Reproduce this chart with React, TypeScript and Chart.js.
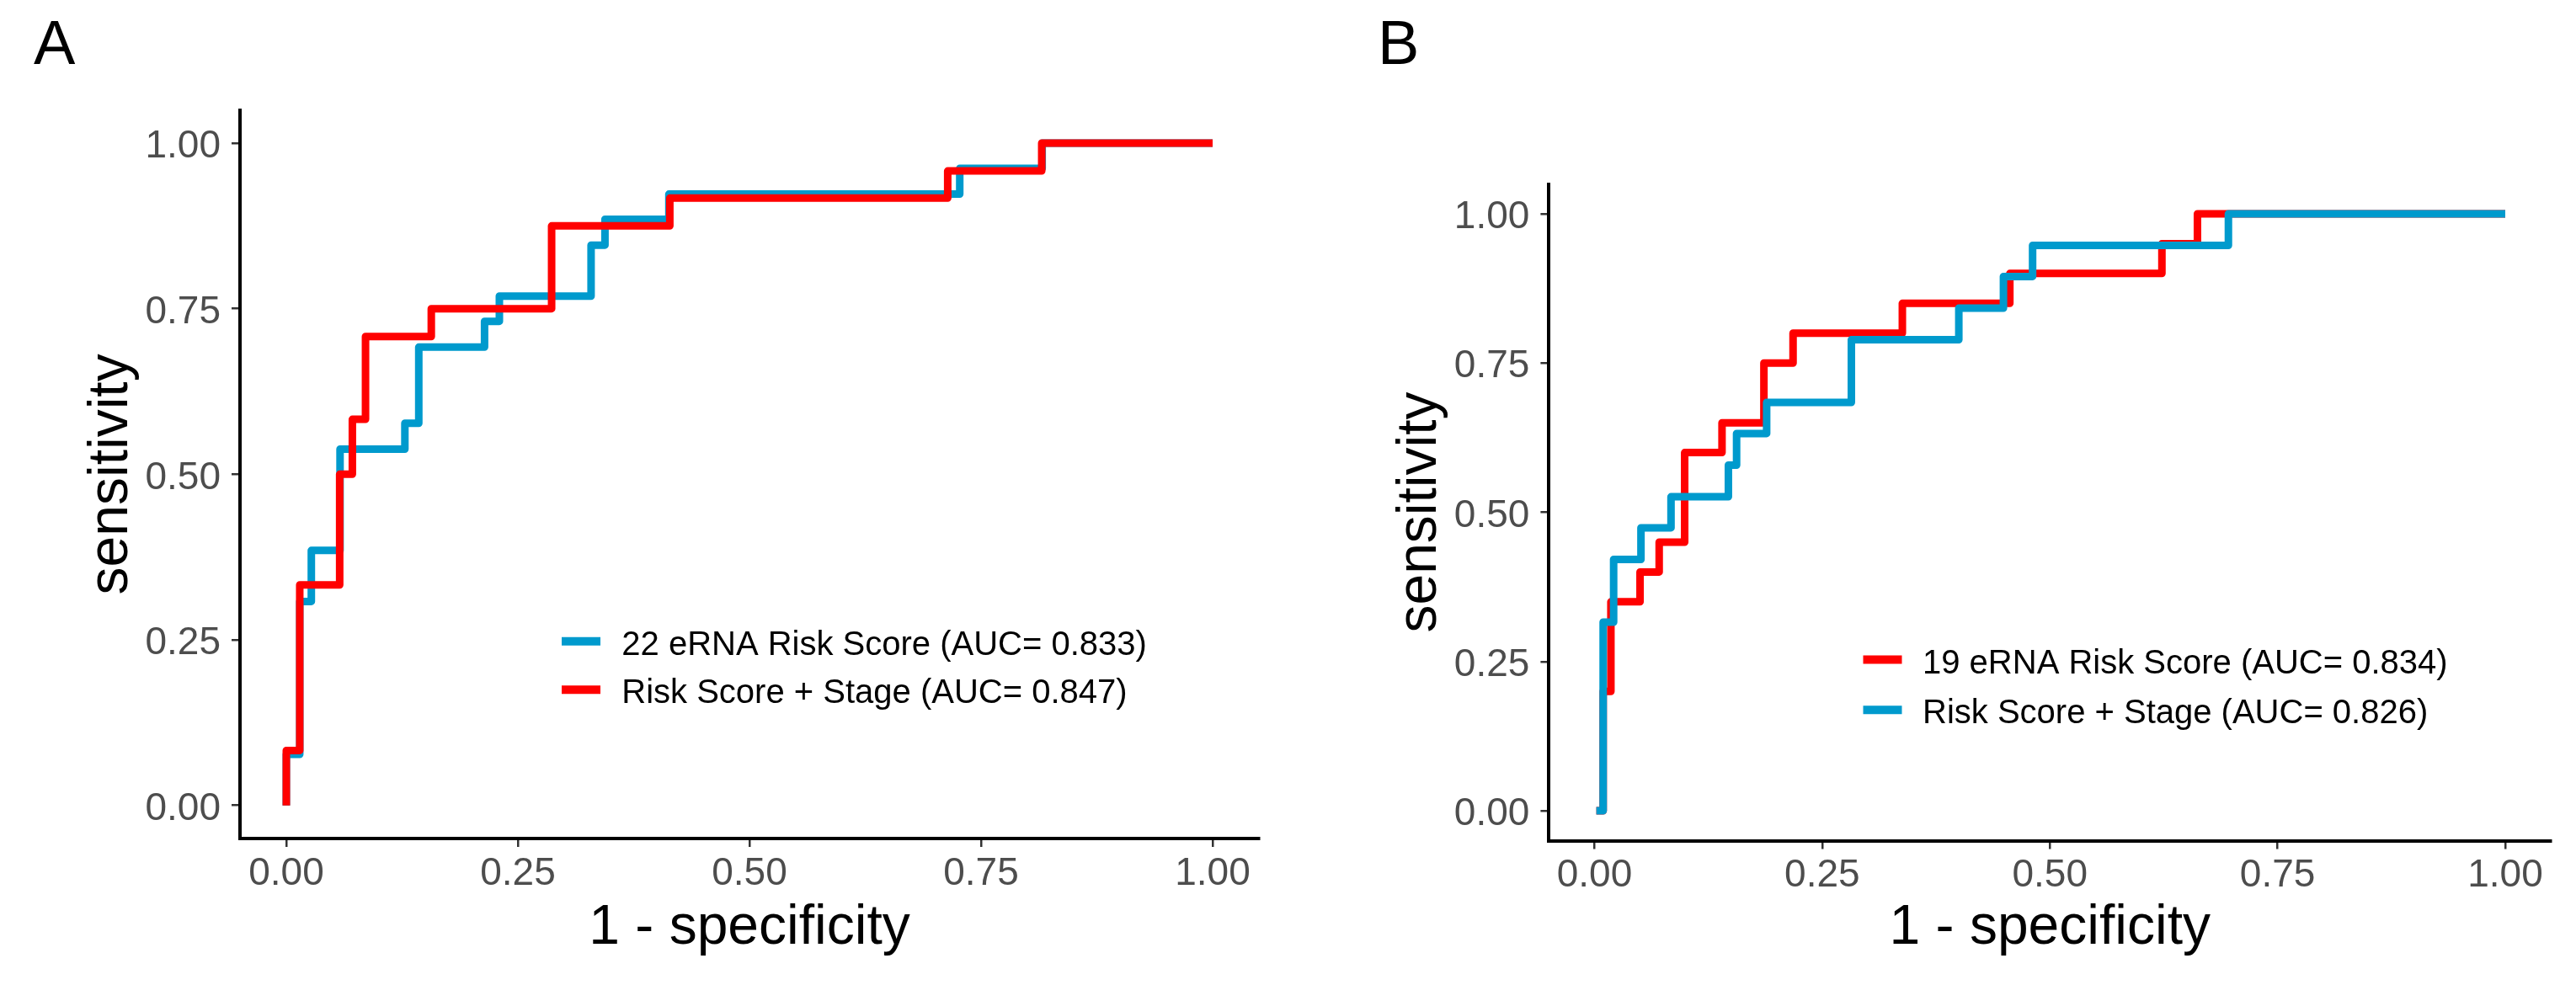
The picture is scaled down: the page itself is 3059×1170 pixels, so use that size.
import React, { useEffect, useRef } from 'react';
import { Chart, registerables } from 'chart.js';

Chart.register(...registerables);

// ---------- shared axis data ----------
const tickValues = [0, 0.25, 0.5, 0.75, 1];
const axisMin = -0.05;
const axisMax = 1.05;
const xTitle = '1 - specificity';
const yTitle = 'sensitivity';

// ---------- Panel A ----------
const panelA = 'A';
const labelA1 = '22 eRNA Risk Score (AUC= 0.833)';
const fprA1 = [0, 0, 0.0145, 0.0145, 0.027, 0.027, 0.058, 0.058, 0.128, 0.128, 0.143, 0.143, 0.214, 0.214, 0.23, 0.23, 0.329, 0.329, 0.344, 0.344, 0.413, 0.413, 0.727, 0.727, 0.816, 0.816, 1];
const tprA1 = [0, 0.077, 0.077, 0.308, 0.308, 0.385, 0.385, 0.538, 0.538, 0.577, 0.577, 0.692, 0.692, 0.731, 0.731, 0.769, 0.769, 0.846, 0.846, 0.885, 0.885, 0.923, 0.923, 0.962, 0.962, 1, 1];
const labelA2 = 'Risk Score + Stage (AUC= 0.847)';
const fprA2 = [0, 0, 0.0145, 0.0145, 0.0576, 0.0576, 0.0713, 0.0713, 0.0855, 0.0855, 0.1565, 0.1565, 0.2864, 0.2864, 0.414, 0.414, 0.714, 0.714, 0.8155, 0.8155, 1];
const tprA2 = [0, 0.083, 0.083, 0.333, 0.333, 0.5, 0.5, 0.583, 0.583, 0.708, 0.708, 0.75, 0.75, 0.875, 0.875, 0.917, 0.917, 0.958, 0.958, 1, 1];

// ---------- Panel B ----------
const panelB = 'B';
const labelB1 = '19 eRNA Risk Score (AUC= 0.834)';
const fprB1 = [0.002, 0.0095, 0.0095, 0.018, 0.018, 0.05, 0.05, 0.071, 0.071, 0.099, 0.099, 0.14, 0.14, 0.186, 0.186, 0.218, 0.218, 0.338, 0.338, 0.456, 0.456, 0.623, 0.623, 0.662, 0.662, 1];
const tprB1 = [0, 0, 0.2, 0.2, 0.35, 0.35, 0.4, 0.4, 0.45, 0.45, 0.6, 0.6, 0.65, 0.65, 0.75, 0.75, 0.8, 0.8, 0.85, 0.85, 0.9, 0.9, 0.95, 0.95, 1, 1];
const labelB2 = 'Risk Score + Stage (AUC= 0.826)';
const fprB2 = [0.002, 0.0095, 0.0095, 0.021, 0.021, 0.051, 0.051, 0.084, 0.084, 0.147, 0.147, 0.156, 0.156, 0.189, 0.189, 0.282, 0.282, 0.4, 0.4, 0.449, 0.449, 0.481, 0.481, 0.696, 0.696, 1];
const tprB2 = [0, 0, 0.316, 0.316, 0.421, 0.421, 0.474, 0.474, 0.526, 0.526, 0.579, 0.579, 0.632, 0.632, 0.684, 0.684, 0.789, 0.789, 0.842, 0.842, 0.895, 0.895, 0.947, 0.947, 1, 1];

// ---------- styles ----------
const BLUE = '#009ACD';
const RED = '#FF0000';
const FONT = '"Liberation Sans", Arial, Helvetica, sans-serif';
const H = 1170;

const insideLegend = {
  id: 'insideLegend',
  afterDatasetsDraw(chart: any, _args: any, opts: any) {
    const ctx = chart.ctx;
    ctx.save();
    chart.data.datasets.forEach((ds: any, i: number) => {
      const y = opts.y0 + i * opts.spacing;
      ctx.strokeStyle = ds.borderColor;
      ctx.lineWidth = opts.keyWidth;
      ctx.lineCap = 'butt';
      ctx.beginPath();
      ctx.moveTo(opts.x0, y);
      ctx.lineTo(opts.x0 + opts.keyLength, y);
      ctx.stroke();
      ctx.fillStyle = '#000000';
      ctx.font = `${opts.fontSize}px ${FONT}`;
      ctx.textBaseline = 'middle';
      ctx.textAlign = 'left';
      ctx.fillText(ds.label, opts.textX, y + opts.textDy);
    });
    ctx.restore();
  },
};

type PanelCfg = {
  left: number;
  width: number;
  title: string;
  padLeft: number;
  padRight: number;
  titleBottom: number;
  yWidth: number;
  xHeight: number;
  yTitlePad: number;
  series: { label: string; fpr: number[]; tpr: number[]; color: string; order: number }[];
  legend: { x0: number; y0: number; spacing: number; textX: number };
};

const panels: PanelCfg[] = [
  {
    left: 0,
    width: 1530,
    title: panelA,
    padLeft: 40,
    padRight: 35,
    titleBottom: 30.3,
    yWidth: 245,
    xHeight: 174,
    yTitlePad: 53.4,
    series: [
      { label: labelA1, fpr: fprA1, tpr: tprA1, color: BLUE, order: 1 },
      { label: labelA2, fpr: fprA2, tpr: tprA2, color: RED, order: 0 },
    ],
    legend: { x0: 667, y0: 761.7, spacing: 57.6, textX: 738.3 },
  },
  {
    left: 1530,
    width: 1529,
    title: panelB,
    padLeft: 106,
    padRight: 29.9,
    titleBottom: 118.1,
    yWidth: 203.4,
    xHeight: 171.5,
    yTitlePad: 11.4,
    series: [
      { label: labelB1, fpr: fprB1, tpr: tprB1, color: RED, order: 1 },
      { label: labelB2, fpr: fprB2, tpr: tprB2, color: BLUE, order: 0 },
    ],
    legend: { x0: 682.5, y0: 783.6, spacing: 59.7, textX: 753 },
  },
];

function RocPanel({ cfg }: { cfg: PanelCfg }) {
  const ref = useRef<HTMLCanvasElement>(null);

  useEffect(() => {
    const canvas = ref.current;
    if (!canvas) return;
    const tickFont = { size: 46, family: FONT };
    const titleFont = { size: 66, family: FONT };
    const grid = {
      display: true,
      drawOnChartArea: false,
      drawTicks: true,
      tickLength: 10,
      color: '#333333',
      lineWidth: 2.5,
    };
    const border = { display: true, color: '#000000', width: 4 };
    const setTicks = (scale: any) => {
      scale.ticks = tickValues.map((v) => ({ value: v }));
    };

    const chart = new Chart(canvas, {
      type: 'line',
      data: {
        datasets: cfg.series.map((s) => ({
          label: s.label,
          data: s.fpr.map((x, i) => ({ x, y: s.tpr[i] })),
          borderColor: s.color,
          backgroundColor: s.color,
          borderWidth: 9,
          pointRadius: 0,
          pointHoverRadius: 0,
          borderCapStyle: 'butt',
          borderJoinStyle: 'round',
          tension: 0,
          fill: false,
          order: s.order,
        })),
      },
      options: {
        animation: false,
        responsive: false,
        devicePixelRatio: 1,
        events: [],
        layout: { padding: { top: 0, left: cfg.padLeft, right: cfg.padRight, bottom: 0 } },
        plugins: {
          legend: { display: false },
          tooltip: { enabled: false },
          title: {
            display: true,
            text: cfg.title,
            align: 'start',
            color: '#000000',
            font: { size: 74, family: FONT, weight: 'normal' },
            padding: { top: 11.6, bottom: cfg.titleBottom },
          },
          insideLegend: {
            ...cfg.legend,
            keyLength: 46,
            keyWidth: 10,
            fontSize: 40,
            textDy: 5,
          },
        } as any,
        scales: {
          x: {
            type: 'linear',
            min: axisMin,
            max: axisMax,
            afterBuildTicks: setTicks,
            afterFit: (scale: any) => {
              scale.height = cfg.xHeight;
            },
            grid,
            border,
            ticks: {
              color: '#4D4D4D',
              font: tickFont,
              padding: 4.5,
              maxRotation: 0,
              autoSkip: false,
              callback: (v: any) => Number(v).toFixed(2),
            },
            title: {
              display: true,
              text: xTitle,
              color: '#000000',
              font: titleFont,
              padding: { top: 0, bottom: 28 },
            },
          },
          y: {
            type: 'linear',
            min: axisMin,
            max: axisMax,
            afterBuildTicks: setTicks,
            afterFit: (scale: any) => {
              scale.width = cfg.yWidth;
            },
            grid,
            border,
            ticks: {
              color: '#4D4D4D',
              font: tickFont,
              padding: 13,
              labelOffset: 4.5,
              autoSkip: false,
              callback: (v: any) => Number(v).toFixed(2),
            },
            title: {
              display: true,
              text: yTitle,
              color: '#000000',
              font: titleFont,
              padding: { top: cfg.yTitlePad, bottom: 0 },
            },
          },
        },
      } as any,
      plugins: [insideLegend],
    });
    return () => chart.destroy();
  }, [cfg]);

  return (
    <canvas
      ref={ref}
      width={cfg.width}
      height={H}
      style={{ position: 'absolute', left: cfg.left, top: 0, width: cfg.width, height: H }}
    />
  );
}

export default function App() {
  return (
    <div
      style={{
        position: 'fixed',
        left: 0,
        top: 0,
        width: 3059,
        height: H,
        background: '#ffffff',
        overflow: 'hidden',
      }}
    >
      {panels.map((p) => (
        <RocPanel key={p.title} cfg={p} />
      ))}
    </div>
  );
}
